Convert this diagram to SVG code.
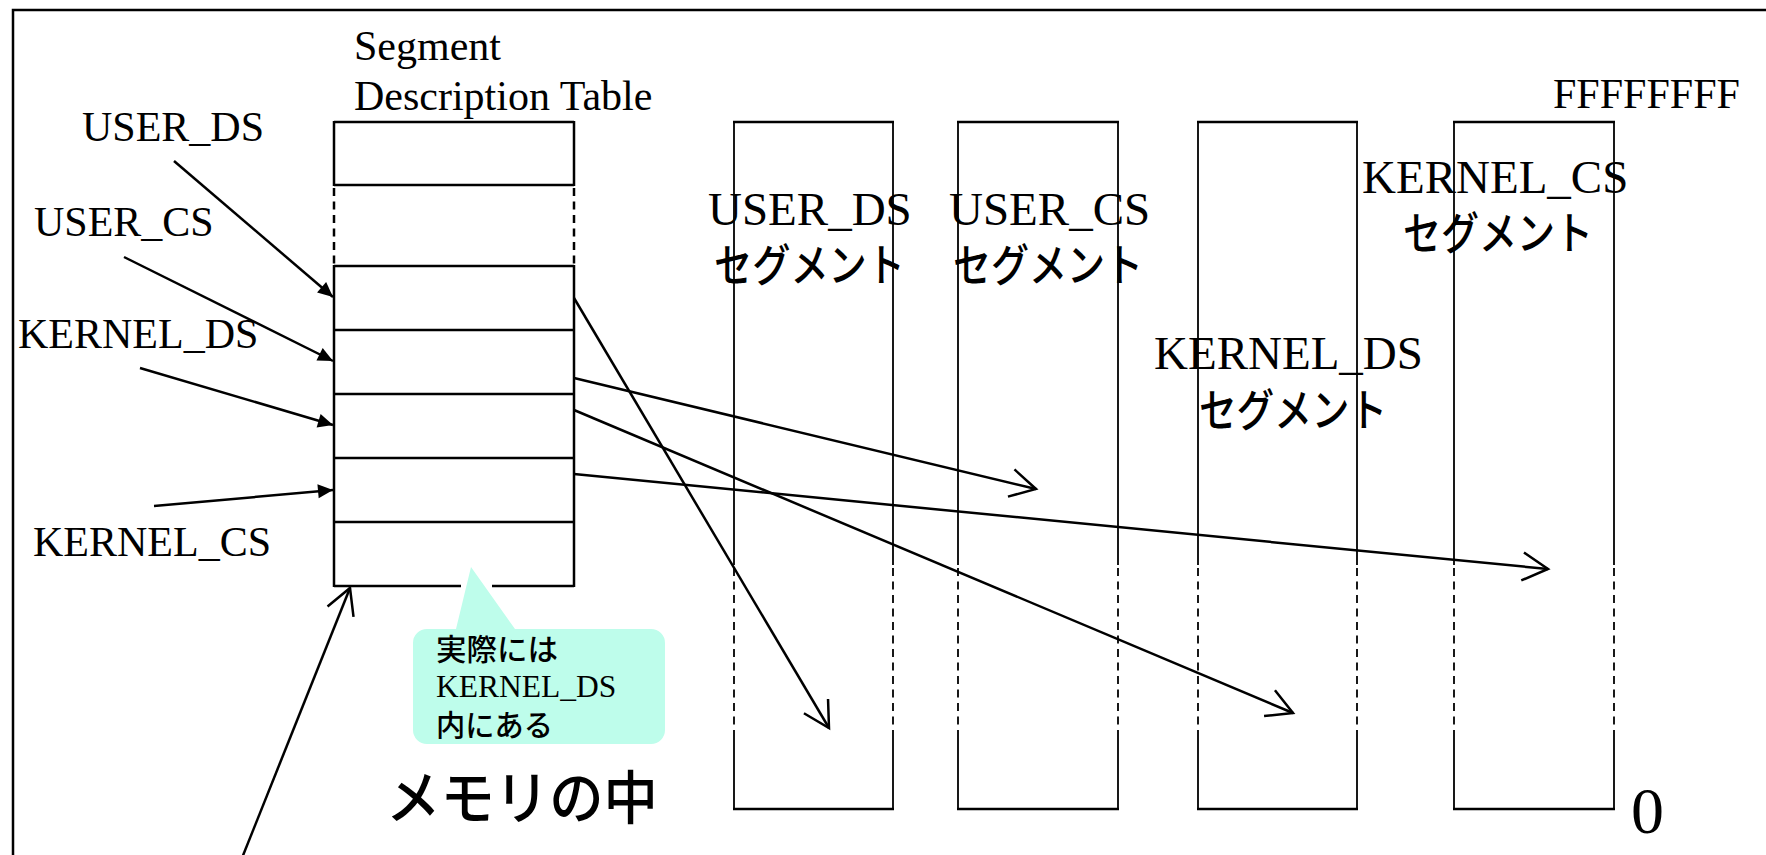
<svg xmlns="http://www.w3.org/2000/svg" width="1766" height="855" viewBox="0 0 1766 855">
  <style>
    .serif { font-family: "Liberation Serif", "Times New Roman", serif; fill: #000; }
    .jp { font-family: "Noto Sans CJK JP", "Noto Sans", sans-serif; fill: #000; }
    .lbl { font-size: 42px; }
    .seg { font-size: 47px; }
    .segjp { font-size: 45px; font-weight: 500; }
    .thick { stroke: #000; stroke-width: 2.5; fill: none; }
    .side { stroke: #000; stroke-width: 1.8; fill: none; }
    .dash { stroke-dasharray: 8 5.5; }
    .conn { stroke: #000; stroke-width: 2.5; fill: none; }
  </style>
  <defs>
    <marker id="filled" markerUnits="userSpaceOnUse" viewBox="-17 -9 18 18" markerWidth="18" markerHeight="18" refX="0" refY="0" orient="auto" overflow="visible">
      <path d="M0,0 L-15,-7 L-15,7 Z" fill="#000"/>
    </marker>
    <marker id="open" markerUnits="userSpaceOnUse" viewBox="-30 -16 32 32" markerWidth="32" markerHeight="32" refX="0" refY="0" orient="auto" overflow="visible">
      <path d="M-25.5,-14 L0,0 L-25.5,14" fill="none" stroke="#000" stroke-width="2.5" stroke-linejoin="miter"/>
    </marker>
  </defs>

  <rect width="1766" height="855" fill="#fff"/>

  <!-- outer frame -->
  <path class="thick" d="M13,870 V10 H1780"/>

  <!-- left labels -->
  <g id="label-user-ds"><text class="serif lbl" x="82" y="141">USER_DS</text></g>
  <g id="label-user-cs"><text class="serif lbl" x="34" y="236">USER_CS</text></g>
  <g id="label-kernel-ds"><text class="serif lbl" x="18" y="348">KERNEL_DS</text></g>
  <g id="label-kernel-cs"><text class="serif lbl" x="33" y="556">KERNEL_CS</text></g>

  <!-- Segment Description Table -->
  <g id="sdt">
    <text class="serif lbl" x="354" y="60">Segment</text>
    <text class="serif lbl" x="354" y="110">Description Table</text>
    <path class="thick" d="M334,122 H574 M334,185 H574 M334,266 H574 M334,330 H574 M334,394 H574 M334,458 H574 M334,522 H574"/>
    <path class="thick" d="M334,586 H461 M492,586 H574"/>
    <path class="thick" d="M334,121 V186 M574,121 V186 M334,265 V587 M574,265 V587"/>
    <path class="thick dash" d="M334,188 V266 M574,188 V266"/>
  </g>

  <!-- callout -->
  <g id="callout">
    <path d="M427,629 L456,629 L471,567 L515,629 L651,629 A14,14 0 0 1 665,643 L665,730 A14,14 0 0 1 651,744 L427,744 A14,14 0 0 1 413,730 L413,643 A14,14 0 0 1 427,629 Z" fill="#BEFDEB"/>
    <text class="jp" x="436" y="660" font-size="30" font-weight="500" textLength="122" lengthAdjust="spacingAndGlyphs">実際には</text>
    <text class="serif" x="436" y="697" font-size="31.5">KERNEL_DS</text>
    <text class="jp" x="436" y="736" font-size="30" font-weight="500" textLength="117" lengthAdjust="spacingAndGlyphs">内にある</text>
  </g>

  <!-- memory label -->
  <g id="memory-label">
    <text class="jp" x="386" y="819" font-size="58" font-weight="500" textLength="272" lengthAdjust="spacingAndGlyphs">メモリの中</text>
  </g>

  <!-- segment columns -->
  <g id="seg-user-ds">
    <path class="thick" d="M733,122 H894 M733,809 H894"/>
    <path class="side" d="M734,122 V565 M734,730 V809 M893,122 V565 M893,730 V809"/>
    <path class="side dash" d="M734,568 V730 M893,568 V730"/>
    <text class="serif seg" x="708" y="225">USER_DS</text>
    <text class="jp segjp" x="714" y="282" textLength="191" lengthAdjust="spacingAndGlyphs">セグメント</text>
  </g>
  <g id="seg-user-cs">
    <path class="thick" d="M957,122 H1119 M957,809 H1119"/>
    <path class="side" d="M958,122 V565 M958,730 V809 M1118,122 V565 M1118,730 V809"/>
    <path class="side dash" d="M958,568 V730 M1118,568 V730"/>
    <text class="serif seg" x="949" y="225">USER_CS</text>
    <text class="jp segjp" x="953" y="282" textLength="190" lengthAdjust="spacingAndGlyphs">セグメント</text>
  </g>
  <g id="seg-kernel-ds">
    <path class="thick" d="M1197,122 H1358 M1197,809 H1358"/>
    <path class="side" d="M1198,122 V565 M1198,730 V809 M1357,122 V565 M1357,730 V809"/>
    <path class="side dash" d="M1198,568 V730 M1357,568 V730"/>
    <text class="serif seg" x="1154" y="369">KERNEL_DS</text>
    <text class="jp segjp" x="1199" y="427" textLength="188" lengthAdjust="spacingAndGlyphs">セグメント</text>
  </g>
  <g id="seg-kernel-cs">
    <path class="thick" d="M1453,122 H1615 M1453,809 H1615"/>
    <path class="side" d="M1454,122 V565 M1454,730 V809 M1614,122 V565 M1614,730 V809"/>
    <path class="side dash" d="M1454,568 V730 M1614,568 V730"/>
    <text class="serif seg" x="1362" y="193">KERNEL_CS</text>
    <text class="jp segjp" x="1403" y="250" textLength="190" lengthAdjust="spacingAndGlyphs">セグメント</text>
  </g>

  <!-- address labels -->
  <g id="addr-top"><text class="serif" x="1553" y="108" font-size="42">FFFFFFFF</text></g>
  <g id="addr-bottom"><text class="serif" x="1631" y="833" font-size="66">0</text></g>

  <!-- connectors -->
  <g id="connectors">
    <line class="conn" x1="174" y1="161" x2="333" y2="297" marker-end="url(#filled)"/>
    <line class="conn" x1="124" y1="257" x2="333" y2="361" marker-end="url(#filled)"/>
    <line class="conn" x1="140" y1="368" x2="333" y2="425" marker-end="url(#filled)"/>
    <line class="conn" x1="154" y1="506" x2="333" y2="490" marker-end="url(#filled)"/>
    <line class="conn" x1="574" y1="298" x2="829" y2="728" marker-end="url(#open)"/>
    <line class="conn" x1="574" y1="378" x2="1036" y2="489" marker-end="url(#open)"/>
    <line class="conn" x1="574" y1="410" x2="1293" y2="713" marker-end="url(#open)"/>
    <line class="conn" x1="574" y1="474" x2="1548" y2="569" marker-end="url(#open)"/>
    <line class="conn" x1="242" y1="858" x2="350" y2="588" marker-end="url(#open)"/>
  </g>
</svg>
